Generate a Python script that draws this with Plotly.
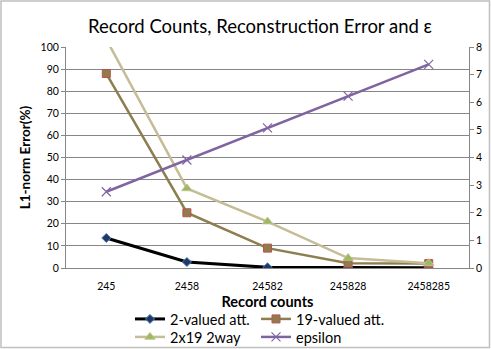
"""
Record counts vs reconstruction error and epsilon
"""

import plotly.graph_objs as go

RECORD_COUNTS = ['245', '2458', '24582', '245828', '2458285']
ERR_2_VALUED = [13.6, 2.7, 0.3, 0.1, 0.1]
ERR_19_VALUED = [88.0, 25.0, 9.0, 2.2, 2.0]
ERR_2X19_2WAY = [103.5, 36.0, 21.0, 4.5, 2.2]
EPSILON = [2.76, 3.91, 5.07, 6.22, 7.37]

FONT = 'Lato, Liberation Sans, sans-serif'
W, H = 491, 349
L, R, T, B = 66, 22, 47, 81

fig = go.Figure()
fig.add_trace(go.Scatter(x=RECORD_COUNTS, y=ERR_2_VALUED, name='2-valued att.',
                         mode='lines+markers', legend='legend',
                         line=dict(color='black', width=3),
                         marker=dict(symbol='diamond', size=7, color='#1F3864',
                                     line=dict(color='#4F81BD', width=1))))
fig.add_trace(go.Scatter(x=RECORD_COUNTS, y=ERR_19_VALUED, name='19-valued att.',
                         mode='lines+markers', legend='legend2',
                         line=dict(color='#8C7E4E', width=2.5),
                         marker=dict(symbol='square', size=8, color='#8C7E4E',
                                     line=dict(color='#C0504D', width=1))))
fig.add_trace(go.Scatter(x=RECORD_COUNTS, y=ERR_2X19_2WAY, name='2x19 2way',
                         mode='lines+markers', legend='legend3',
                         line=dict(color='#C4BD97', width=2.5),
                         marker=dict(symbol='triangle-up', size=9, color='#9BBB59',
                                     line=dict(color='#C4BD97', width=1))))
fig.add_trace(go.Scatter(x=RECORD_COUNTS, y=EPSILON, name='epsilon', yaxis='y2',
                         mode='lines+markers', legend='legend4',
                         line=dict(color='#8064A2', width=2.5),
                         marker=dict(symbol='x-thin', size=9,
                                     line=dict(color='#8064A2', width=1.2))))

# outer chart border
pw, ph = W - L - R, H - T - B
fig.add_shape(type='rect', xref='paper', yref='paper',
              x0=-(L - 1) / pw, x1=1 + (R - 1.5) / pw,
              y0=-(B - 1.5) / ph, y1=1 + (T - 1) / ph,
              line=dict(color='#BFBFBF', width=1.5), layer='below')


def legend_at(px, py):
    return dict(orientation='h', xanchor='left', yanchor='top',
                x=(px - L) / pw, y=(268 - py) / ph, font=dict(size=14.5),
                itemwidth=30, bgcolor='rgba(0,0,0,0)')


fig.update_layout(
    width=W, height=H,
    margin=dict(l=L, r=R, t=T, b=B, autoexpand=False),
    paper_bgcolor='white', plot_bgcolor='white',
    font=dict(family=FONT, size=11, color='black'),
    title=dict(text='Record Counts, Reconstruction Error and ε',
               x=260 / W, xref='container', xanchor='center',
               y=1 - 27 / H, yref='container', yanchor='middle',
               font=dict(size=18.5, family=FONT)),
    xaxis=dict(title=dict(text='<b>Record counts</b>', font=dict(size=14.5), standoff=6),
               range=[-0.5, 4.5],
               showline=True, linecolor='#868686', linewidth=1,
               ticks='', ticklabelstandoff=8, showgrid=False,
               tickfont=dict(size=10.5)),
    yaxis=dict(title=dict(text='<b>L1-norm Error(%)</b>', font=dict(size=13.5), standoff=6),
               range=[0, 100], dtick=10, showline=True, linecolor='#868686',
               ticks='outside', ticklen=4, tickcolor='#868686',
               gridcolor='#868686', gridwidth=1, zeroline=False,
               tickfont=dict(size=10.5)),
    yaxis2=dict(range=[0, 8], dtick=1, overlaying='y', side='right',
                showline=True, linecolor='#868686', ticks='outside',
                ticklen=4, tickcolor='#868686', showgrid=False,
                zeroline=False, tickfont=dict(size=10.5)),
    legend=legend_at(130, 303),
    legend2=legend_at(256, 303),
    legend3=legend_at(130, 321),
    legend4=legend_at(256, 321),
    showlegend=True,
)

fig.write_html('out.html', config={'displayModeBar': False},
               post_script="document.body.style.margin='0';")
